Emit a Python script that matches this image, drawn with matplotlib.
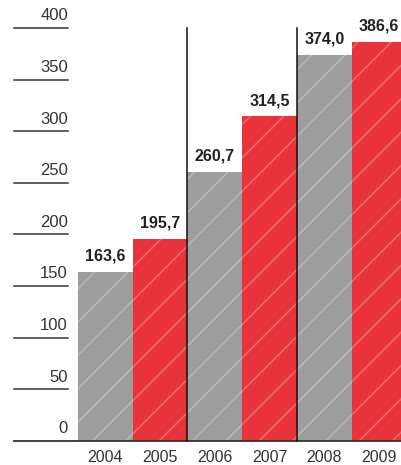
import matplotlib
matplotlib.use('Agg')
import matplotlib.pyplot as plt
import matplotlib.transforms as mtransforms

# data
years = ['2004', '2005', '2006', '2007', '2008', '2009']
values = [163.6, 195.7, 260.7, 314.5, 374.0, 386.6]
labels = ['163,6', '195,7', '260,7', '314,5', '374,0', '386,6']
yticks = [0, 50, 100, 150, 200, 250, 300, 350, 400]

gray = '#9d9d9d'
red = '#e8333a'
colors = [gray, red, gray, red, gray, red]
hatch_colors = ['#b7b7b7', '#ee676c', '#b7b7b7', '#ee676c', '#b7b7b7', '#ee676c']

plt.rcParams['font.family'] = ['Liberation Sans', 'DejaVu Sans']
plt.rcParams['hatch.linewidth'] = 1.2

fig = plt.figure(figsize=(4.02, 4.65), dpi=100)
ax = fig.add_axes([14 / 402, 24 / 465, 388 / 402, 413 / 465])

xs = list(range(len(years)))
for x, v, c, hc in zip(xs, values, colors, hatch_colors):
    ax.bar(x, v, width=1.0, color=c, edgecolor=hc, linewidth=0, hatch='/', zorder=2)

for x, v, lab in zip(xs, values, labels):
    ax.text(x, v + 8, lab, ha='center', va='bottom', fontsize=11.5,
            fontweight='bold', color='#222222', clip_on=False)

ax.set_xlim(-1.67, 5.42)
ax.set_ylim(0, 400)

# tick lines with labels sitting above them
trans = mtransforms.blended_transform_factory(ax.transAxes, ax.transData)
for t in yticks[1:]:
    ax.plot([0, 54 / 388], [t, t], color='#333333', lw=1.1, transform=trans,
            clip_on=False, zorder=3)
for t in yticks:
    ax.text(54 / 388, t + 4.5, str(t), transform=trans, ha='right', va='bottom',
            fontsize=12, color='#333333', clip_on=False)

# base line
ax.plot([0, 1], [0, 0], color='#333333', lw=1.3, transform=trans, clip_on=False, zorder=4)

# separators between pairs of years
for x in [1.5, 3.5]:
    ax.plot([x, x], [0, 400], color='#111111', lw=1.1, zorder=4, clip_on=False)

for x, y in zip(xs, years):
    ax.text(x, -16, y, ha='center', va='center', fontsize=11.5, color='#333333', clip_on=False)

ax.axis('off')
fig.savefig('out.png', dpi=100)
